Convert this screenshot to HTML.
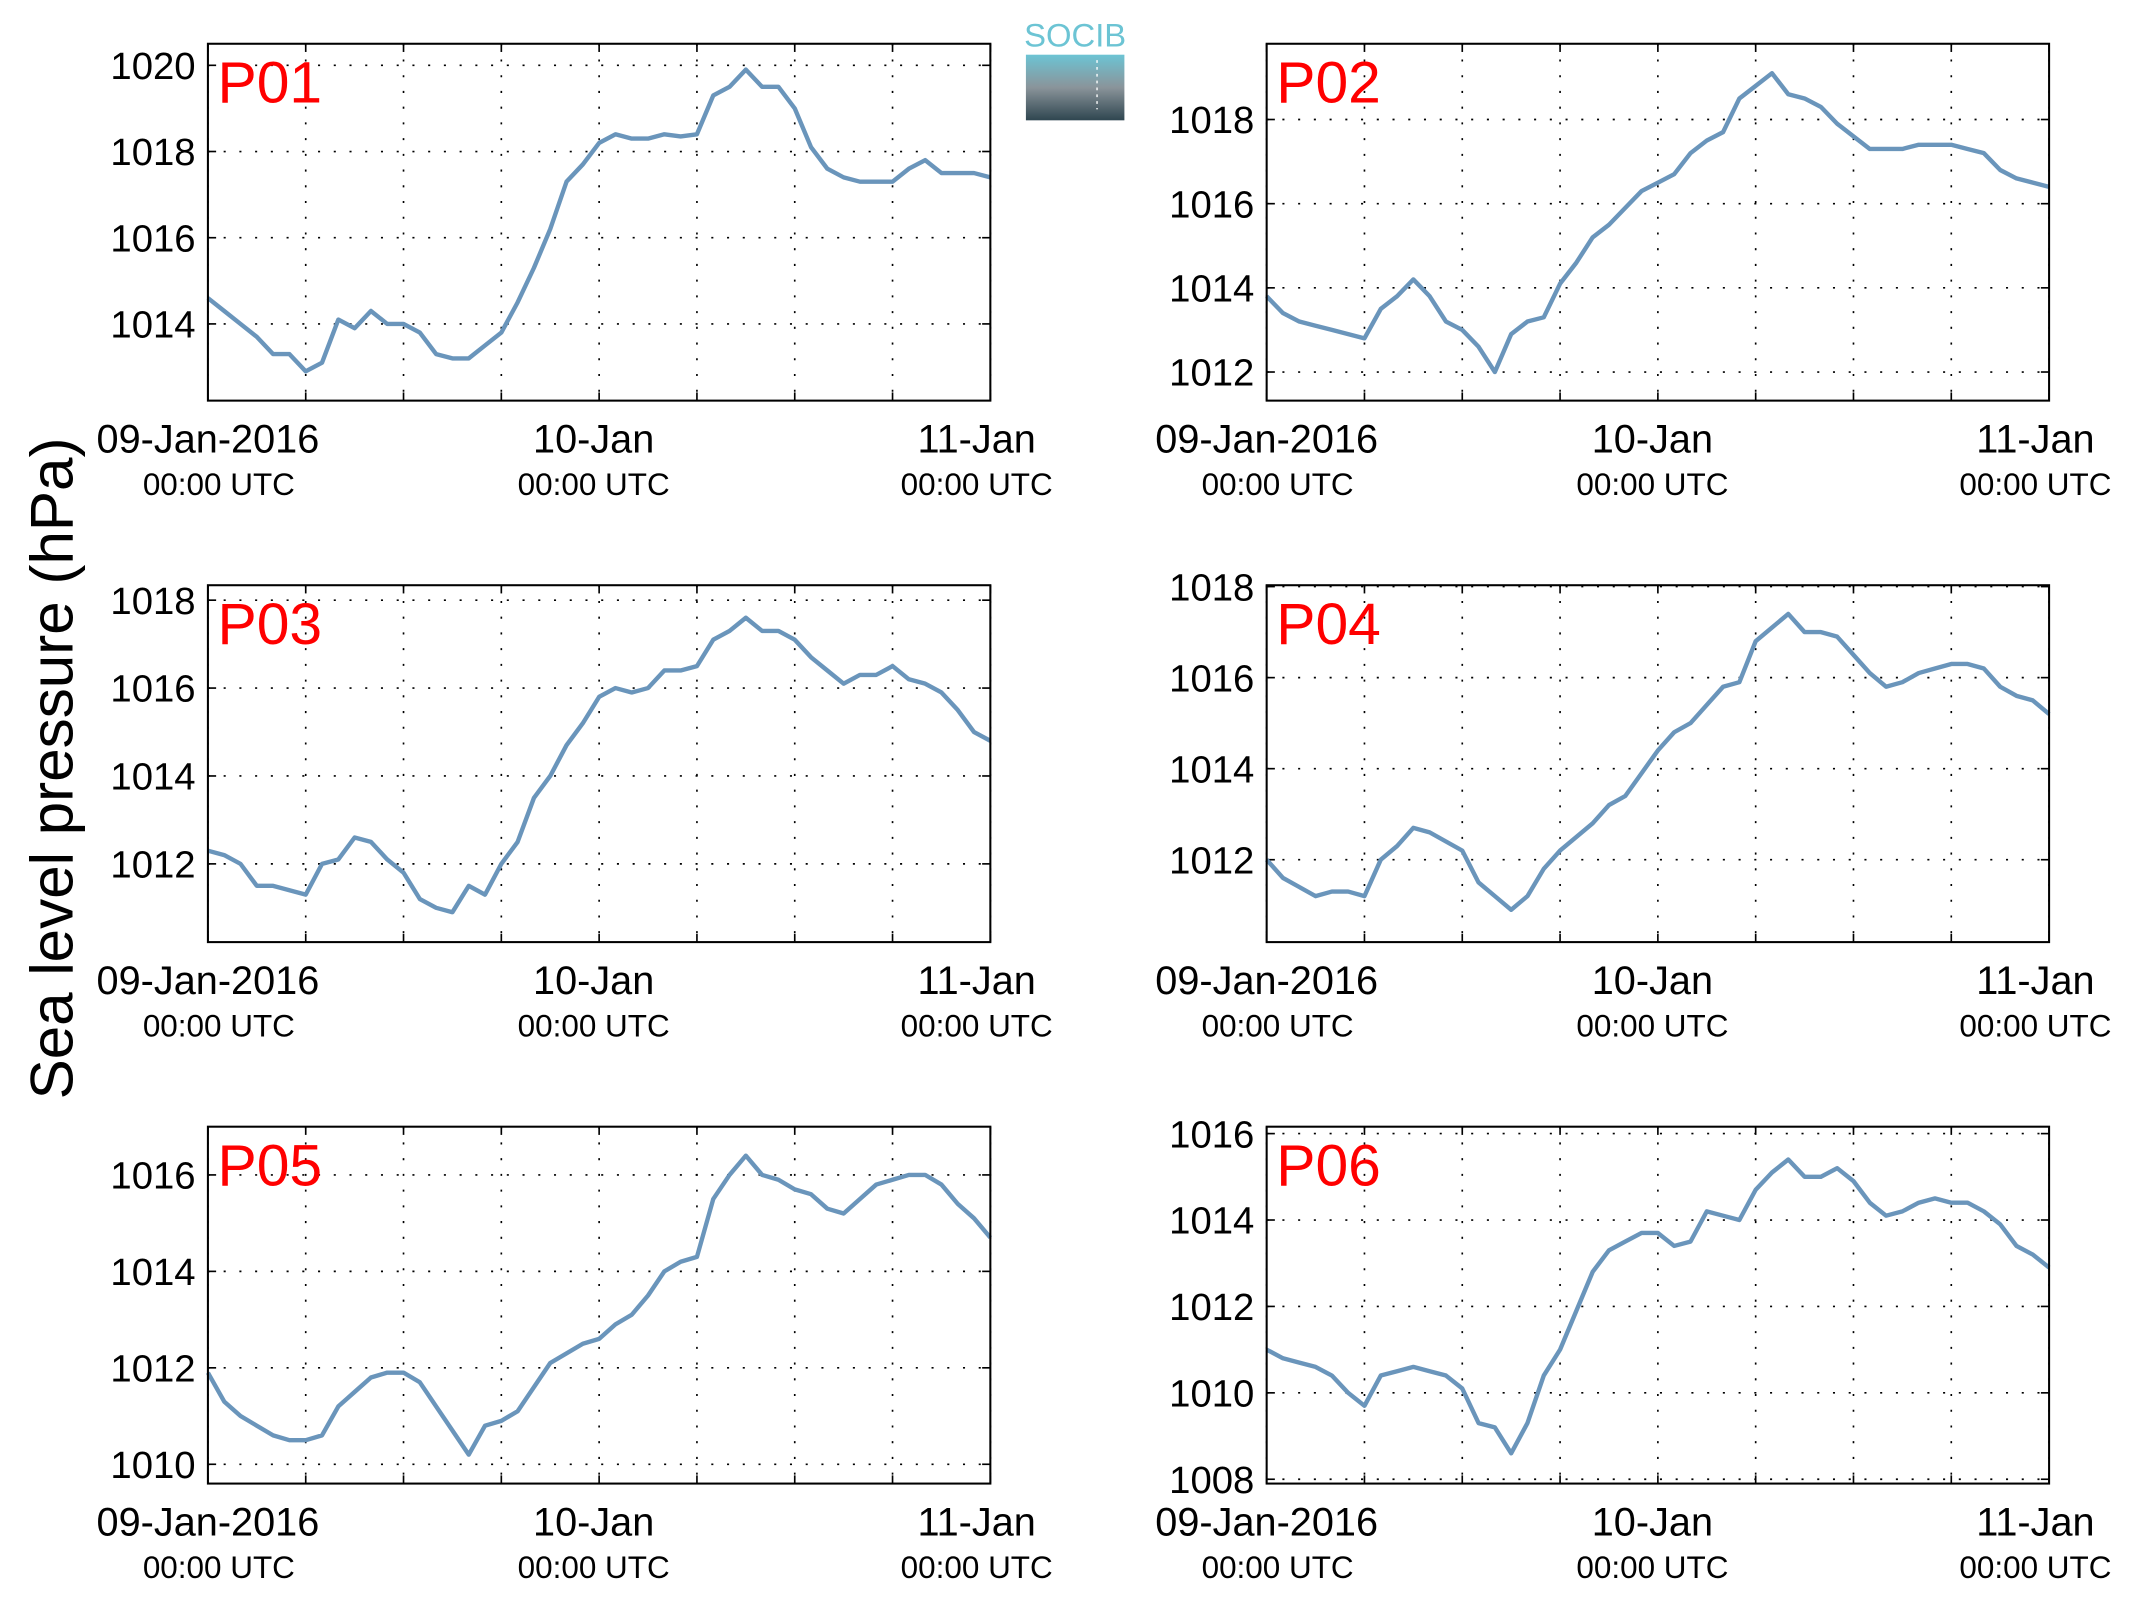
<!DOCTYPE html>
<html><head><meta charset="utf-8"><style>
html,body{margin:0;padding:0;background:#fff}
svg{display:block}
text{font-family:"Liberation Sans",sans-serif}
</style></head><body>
<svg id="fig" width="2138" height="1608" viewBox="0 0 1563 1176" preserveAspectRatio="none" xmlns="http://www.w3.org/2000/svg">
<rect width="1563" height="1176" fill="#fff"/>
<text transform="translate(53,562) rotate(-90)" text-anchor="middle" font-size="44">Sea level pressure (hPa)</text>
<g>
<defs><linearGradient id="lg" x1="0" y1="0" x2="0" y2="1"><stop offset="0" stop-color="#6cc4d4"/><stop offset="0.5" stop-color="#8a949a"/><stop offset="1" stop-color="#2f4650"/></linearGradient></defs>
<text x="786" y="34" text-anchor="middle" font-size="24" fill="#6cc4d4">SOCIB</text>
<rect x="750" y="40" width="72" height="48" fill="url(#lg)"/>
<line x1="802" y1="44" x2="802" y2="80" stroke="#fff" stroke-dasharray="2,3"/>
</g>
<g id="panels"></g>
</svg>
<script>
const hours = [];
for (let h = 0; h <= 48; h++) hours.push(h);
const p01 = [1014.6,1014.3,1014.0,1013.7,1013.3,1013.3,1012.9,1013.1,1014.1,1013.9,1014.3,1014.0,1014.0,1013.8,1013.3,1013.2,1013.2,1013.5,1013.8,1014.5,1015.3,1016.2,1017.3,1017.7,1018.2,1018.4,1018.3,1018.3,1018.4,1018.35,1018.4,1019.3,1019.5,1019.9,1019.5,1019.5,1019.0,1018.1,1017.6,1017.4,1017.3,1017.3,1017.3,1017.6,1017.8,1017.5,1017.5,1017.5,1017.4];
const p02 = [1013.8,1013.4,1013.2,1013.1,1013.0,1012.9,1012.8,1013.5,1013.8,1014.2,1013.8,1013.2,1013.0,1012.6,1012.0,1012.9,1013.2,1013.3,1014.1,1014.6,1015.2,1015.5,1015.9,1016.3,1016.5,1016.7,1017.2,1017.5,1017.7,1018.5,1018.8,1019.1,1018.6,1018.5,1018.3,1017.9,1017.6,1017.3,1017.3,1017.3,1017.4,1017.4,1017.4,1017.3,1017.2,1016.8,1016.6,1016.5,1016.4];
const p03 = [1012.3,1012.2,1012.0,1011.5,1011.5,1011.4,1011.3,1012.0,1012.1,1012.6,1012.5,1012.1,1011.8,1011.2,1011.0,1010.9,1011.5,1011.3,1012.0,1012.5,1013.5,1014.0,1014.7,1015.2,1015.8,1016.0,1015.9,1016.0,1016.4,1016.4,1016.5,1017.1,1017.3,1017.6,1017.3,1017.3,1017.1,1016.7,1016.4,1016.1,1016.3,1016.3,1016.5,1016.2,1016.1,1015.9,1015.5,1015.0,1014.8];
const p04 = [1012.0,1011.6,1011.4,1011.2,1011.3,1011.3,1011.2,1012.0,1012.3,1012.7,1012.6,1012.4,1012.2,1011.5,1011.2,1010.9,1011.2,1011.8,1012.2,1012.5,1012.8,1013.2,1013.4,1013.9,1014.4,1014.8,1015.0,1015.4,1015.8,1015.9,1016.8,1017.1,1017.4,1017.0,1017.0,1016.9,1016.5,1016.1,1015.8,1015.9,1016.1,1016.2,1016.3,1016.3,1016.2,1015.8,1015.6,1015.5,1015.2];
const p05 = [1011.9,1011.3,1011.0,1010.8,1010.6,1010.5,1010.5,1010.6,1011.2,1011.5,1011.8,1011.9,1011.9,1011.7,1011.2,1010.7,1010.2,1010.8,1010.9,1011.1,1011.6,1012.1,1012.3,1012.5,1012.6,1012.9,1013.1,1013.5,1014.0,1014.2,1014.3,1015.5,1016.0,1016.4,1016.0,1015.9,1015.7,1015.6,1015.3,1015.2,1015.5,1015.8,1015.9,1016.0,1016.0,1015.8,1015.4,1015.1,1014.7];
const p06 = [1011.0,1010.8,1010.7,1010.6,1010.4,1010.0,1009.7,1010.4,1010.5,1010.6,1010.5,1010.4,1010.1,1009.3,1009.2,1008.6,1009.3,1010.4,1011.0,1011.9,1012.8,1013.3,1013.5,1013.7,1013.7,1013.4,1013.5,1014.2,1014.1,1014.0,1014.7,1015.1,1015.4,1015.0,1015.0,1015.2,1014.9,1014.4,1014.1,1014.2,1014.4,1014.5,1014.4,1014.4,1014.2,1013.9,1013.4,1013.2,1012.9];
const panelNames = ["P01","P02","P03","P04","P05","P06"];
const yTicks01 = [1014,1016,1018,1020];
const yTicks02 = [1012,1014,1016,1018];
const yTicks03 = [1012,1014,1016,1018];
const yTicks04 = [1012,1014,1016,1018];
const yTicks05 = [1010,1012,1014,1016];
const yTicks06 = [1008,1010,1012,1014,1016];
const xTickHours = [0,6,12,18,24,30,36,42,48];
const xLabelHours = [0,24,48];
const xLabels = ["09-Jan-2016","10-Jan","11-Jan"];

const series=[p01,p02,p03,p04,p05,p06];
const ticks=[yTicks01,yTicks02,yTicks03,yTicks04,yTicks05,yTicks06];
const domains=[[1012.22,1020.5],[1011.32,1019.8],[1010.22,1018.34],[1010.19,1018.03],[1009.6,1017.0],[1007.9,1016.16]];
const boxes=[[152,32],[926,32],[152,428],[926,428],[152,824],[926,824]];
const W=572,H=261;
const NS="http://www.w3.org/2000/svg";
const root=document.getElementById('panels');
function mk(tag,attrs,parent){const e=document.createElementNS(NS,tag);for(const k in attrs)e.setAttribute(k,attrs[k]);parent.appendChild(e);return e;}
series.forEach((vals,i)=>{
  const [x0,y0]=boxes[i];const [lo,hi]=domains[i];
  const xs=h=>x0+h/48*W;
  const ys=v=>y0+H-(v-lo)/(hi-lo)*H;
  const g=mk('g',{},root);
  
  
  xTickHours.forEach(h=>{
    const l=mk('line',{x1:xs(h),x2:xs(h),y1:y0,y2:y0+H,stroke:'#000','stroke-width':1.2,'stroke-dasharray':'1.5,10'},g);
    
    
    mk('line',{x1:xs(h),x2:xs(h),y1:y0+H,y2:y0+H-6,stroke:'#000','stroke-width':1.2},g);
    mk('line',{x1:xs(h),x2:xs(h),y1:y0,y2:y0+6,stroke:'#000','stroke-width':1.2},g);
  });
  ticks[i].forEach(v=>{
    const l=mk('line',{x1:x0,x2:x0+W,y1:ys(v),y2:ys(v),stroke:'#000','stroke-width':1.2,'stroke-dasharray':'1.5,10'},g);
    
    
    mk('line',{x1:x0,x2:x0+6,y1:ys(v),y2:ys(v),stroke:'#000','stroke-width':1.2},g);
    mk('line',{x1:x0+W,x2:x0+W-6,y1:ys(v),y2:ys(v),stroke:'#000','stroke-width':1.2},g);
    const t=mk('text',{x:x0-9,y:ys(v)+10,'text-anchor':'end','font-size':28},g);
    t.textContent=v;
    
    
  });
  const d=vals.map((v,k)=>(k?'L':'M')+xs(hours[k]).toFixed(2)+','+ys(v).toFixed(2)).join(' ');
  const p=mk('path',{d:d,fill:'none',stroke:'#6a95bb','stroke-width':3.2,'stroke-linejoin':'round'},g);
  
  
  const fr=mk('rect',{x:x0,y:y0,width:W,height:H,fill:'none',stroke:'#000','stroke-width':1.5},g);
  
  
  const offs=[0,-4,-10];
  xLabelHours.forEach((h,k)=>{
    const t=mk('text',{x:xs(h)+offs[k],y:y0+H+38,'text-anchor':'middle','font-size':29},g);
    t.textContent=xLabels[k];
    
    
    const u=mk('text',{x:xs(h)+[8,-4,-10][k],y:y0+H+69,'text-anchor':'middle','font-size':23},g);
    u.textContent='00:00 UTC';
    
    
  });
  const tl=mk('text',{x:x0+7,y:y0+43,'font-size':43,fill:'#ff0000'},g);
  tl.textContent=panelNames[i];
  
  
});
</script>
</body></html>
